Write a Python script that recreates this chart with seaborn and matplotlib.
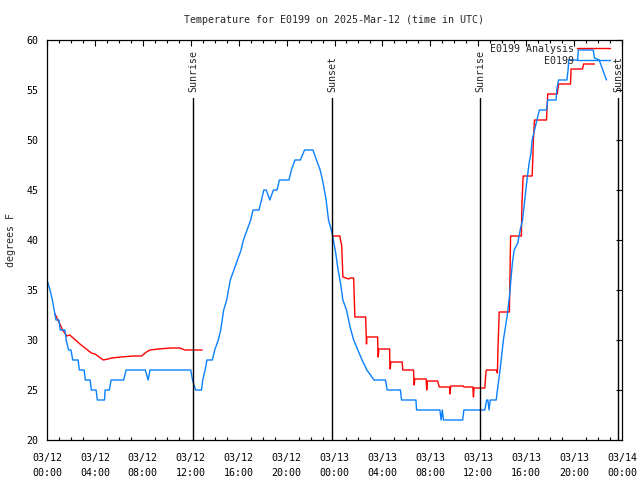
import matplotlib
matplotlib.use("Agg")
import matplotlib.pyplot as plt
import matplotlib.dates as mdates
import seaborn as sns
import pandas as pd

# ---------------- data (hours after 2025-03-12 00:00 UTC, degrees F) -------------
obs_hours = [0.0, 0.25, 0.45, 0.6, 0.75, 1.0, 1.1, 1.5, 1.6, 1.8, 2.0, 2.15, 2.6, 2.7, 3.1, 3.2,
             3.6, 3.7, 4.1, 4.2, 4.8, 4.85, 5.2, 5.35, 6.4, 6.6, 8.2, 8.45, 8.6, 12.0, 12.15, 12.4,
             12.9, 13.0, 13.2, 13.35, 13.8, 14.0, 14.3, 14.5, 14.75, 15.0, 15.3, 15.6, 15.9, 16.2,
             16.4, 16.7, 17.0, 17.2, 17.7, 17.9, 18.1, 18.3, 18.6, 18.9, 19.2, 19.4, 20.2, 20.4,
             20.7, 21.15, 21.5, 22.2, 22.5, 22.8, 23.0, 23.3, 23.5, 23.8, 24.1, 24.3, 24.5, 24.7,
             25.0, 25.3, 25.6, 25.95, 26.3, 26.7, 27.3, 28.25, 28.4, 29.5, 29.6, 30.8, 30.85, 32.8,
             32.9, 33.0, 33.1, 34.7, 34.8, 36.55, 36.7, 36.8, 36.9, 37.0, 37.5, 37.6, 37.8, 38.1,
             38.4, 38.6, 38.7, 38.85, 39.0, 39.3, 39.5, 39.7, 39.85, 40.0, 40.1, 40.25, 40.4, 40.5,
             40.7, 40.9, 41.1, 41.7, 41.8, 42.5, 42.55, 42.7, 43.4, 43.5, 43.55, 44.3, 44.35, 45.6,
             45.7, 46.1, 46.4, 46.7]
obs_temp = [36, 35, 34, 33, 32, 32, 31, 31, 30, 29, 29, 28, 28, 27, 27, 26,
            26, 25, 25, 24, 24, 25, 25, 26, 26, 27, 27, 26, 27, 27, 26, 25,
            25, 26, 27, 28, 28, 29, 30, 31, 33, 34, 36, 37, 38, 39,
            40, 41, 42, 43, 43, 44, 45, 45, 44, 45, 45, 46, 46, 47,
            48, 48, 49, 49, 48, 47, 46, 44, 42, 40.7, 38.7, 37, 35.7, 34,
            33, 31.3, 30, 29, 28, 27, 26, 26, 25, 25, 24, 24, 23, 23,
            22, 23, 22, 22, 23, 23, 24, 24, 23, 24, 24, 25, 26.8, 30,
            32.3, 34.3, 35.7, 37.7, 39, 39.7, 41, 42, 43.7, 45.3, 46.3, 47.7, 48.7, 50,
            51, 52, 53, 53, 54, 54, 55, 56, 56, 57, 58, 58, 59, 59,
            58.2, 58, 57, 56]

ana_hours = [0.67, 1.0, 1.3, 1.65, 1.9, 2.75, 3.7, 4.0, 4.7, 5.1, 5.4, 6.2, 7.2, 7.9, 8.3, 8.6,
             9.3, 10.3, 11.1, 11.5, 12.95]
ana_temp = [32.6, 31.8, 31.0, 30.4, 30.5, 29.6, 28.7, 28.6, 28.0, 28.1, 28.2, 28.3, 28.4, 28.4,
            28.8, 29.0, 29.1, 29.2, 29.2, 29.0, 29.0]

ana2_hours = [23.9, 24.45, 24.5, 24.6, 24.7, 25.2, 25.3, 25.6, 25.7, 26.6, 26.65, 26.67, 26.7,
              27.6, 27.62, 27.65, 27.7, 28.6, 28.62, 28.65, 28.7, 29.65, 29.7, 30.6, 30.62,
              30.65, 30.7, 31.65, 31.7, 31.75, 31.8, 32.6, 32.75, 33.6, 33.65, 33.7, 33.8, 34.75,
              34.8, 35.55, 35.6, 35.65, 35.8, 36.55, 36.65, 36.7, 37.5, 37.6, 37.65, 37.75, 38.6,
              38.65, 38.7, 39.6, 39.65, 39.75, 40.5, 40.55, 40.6, 40.7, 41.7, 41.8, 42.6, 42.7,
              43.7, 43.75, 44.7, 44.8, 45.7]
ana2_temp = [40.4, 40.4, 40.0, 39.5, 36.3, 36.1, 36.2, 36.2, 32.3, 32.3, 30.3, 29.6, 30.3,
             30.3, 29.1, 28.3, 29.1, 29.1, 27.8, 27.1, 27.8, 27.8, 27.0, 27.0, 26.2,
             25.5, 26.1, 26.1, 25.0, 25.9, 25.9, 25.9, 25.3, 25.3, 24.6, 25.4, 25.4, 25.4,
             25.3, 25.3, 24.3, 25.2, 25.2, 25.2, 26.9, 27.0, 27.0, 26.7, 29.3, 32.8, 32.8,
             36.5, 40.4, 40.4, 43.7, 46.4, 46.4, 48.0, 50.0, 52.0, 52.0, 54.6, 54.6, 55.6,
             55.6, 57.1, 57.1, 57.6, 57.6]

event_hours = [12.2, 23.8, 36.15, 47.7]
event_labels = ["Sunrise", "Sunset", "Sunrise", "Sunset"]

series_names = ["E0199 Analysis", "E0199"]
title = "Temperature for E0199 on 2025-Mar-12 (time in UTC)"
ylabel = "degrees F"
yticks = [20, 25, 30, 35, 40, 45, 50, 55, 60]

# ---------------- build table ----------------
base = pd.Timestamp("2025-03-12 00:00")
def frame(hours, temps, name, seg):
    return pd.DataFrame({"time": base + pd.to_timedelta(hours, unit="h"),
                         "temp": temps, "series": name, "seg": seg})

df = pd.concat([frame(ana_hours, ana_temp, series_names[0], 0),
                frame(ana2_hours, ana2_temp, series_names[0], 1),
                frame(obs_hours, obs_temp, series_names[1], 2)], ignore_index=True)

# ---------------- style ----------------
sns.set_style("white")
plt.rcParams["font.family"] = ["DejaVu Sans Mono"]
fs = 7.2
RED = "#FF0000"
BLUE = "#0A80FF"

fig = plt.figure(figsize=(6.4, 4.8), dpi=100)
ax = fig.add_axes([47 / 640, 40 / 480, 575 / 640, 400 / 480])

sns.lineplot(data=df, x="time", y="temp", hue="series", units="seg", estimator=None,
             hue_order=series_names, palette={series_names[0]: RED, series_names[1]: BLUE},
             sort=False, linewidth=1.0, ax=ax)

for h, lab in zip(event_hours, event_labels):
    t = base + pd.Timedelta(hours=h)
    ax.plot([t, t], [20, 54.2], color="black", lw=1.0)
    ax.text(t, 54.8, lab, rotation=90, ha="center", va="bottom", fontsize=fs, clip_on=False)

ax.set_xlim(base, base + pd.Timedelta(hours=48))
ax.set_ylim(20, 60)
ax.set_yticks(yticks)
ax.xaxis.set_major_locator(mdates.HourLocator(byhour=[0, 4, 8, 12, 16, 20]))
ax.xaxis.set_minor_locator(mdates.HourLocator(interval=1))
ax.xaxis.set_major_formatter(mdates.DateFormatter("%m/%d\n%H:%M"))

ax.tick_params(axis="both", which="major", direction="in", top=True, right=True,
               length=4, width=0.8, labelsize=fs, color="black", labelcolor="black")
ax.tick_params(axis="x", which="major", pad=9.5)
ax.tick_params(axis="y", which="major", pad=6)
ax.tick_params(axis="x", which="minor", direction="in", top=True, bottom=True,
               length=2, width=0.8, color="black")
for s in ax.spines.values():
    s.set_color("black")
    s.set_linewidth(0.9)

ax.set_xlabel("")
ax.set_ylabel(ylabel, fontsize=fs, labelpad=8)
ax.set_title(title, fontsize=fs, pad=12.5)

handles, labels = ax.get_legend_handles_labels()
leg = ax.legend(handles, labels, loc="upper right", bbox_to_anchor=(0.979, 0.99),
                frameon=False, markerfirst=False, alignment="right", fontsize=fs,
                handlelength=3.3, handletextpad=0.25, labelspacing=0.2,
                borderaxespad=0, borderpad=0)

fig.canvas.draw()
for lbl in ax.get_xticklabels():
    lbl.set_linespacing(1.55)

fig.savefig("out.png", dpi=100)
